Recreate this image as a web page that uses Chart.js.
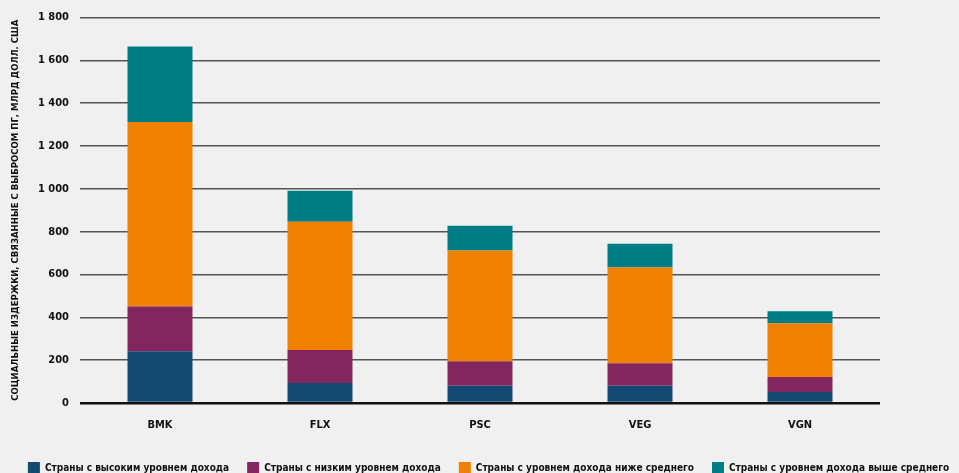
<!DOCTYPE html>
<html>
<head>
<meta charset="utf-8">
<script src="https://cdn.jsdelivr.net/npm/chart.js@4"></script>
<style>
  html, body { margin: 0; padding: 0; background: #f0f0f0; }
  #wrap { width: 959px; height: 473px; }
</style>
</head>
<body>
<div id="wrap"><canvas id="c" width="959" height="473"></canvas></div>
<script>
const categories = ["BMK", "FLX", "PSC", "VEG", "VGN"];
const seriesNames = [
  "Страны с высоким уровнем дохода",
  "Страны с низким уровнем дохода",
  "Страны с уровнем дохода ниже среднего",
  "Страны с уровнем дохода выше среднего"
];
const highIncome = [242, 93, 80, 80, 51];
const lowIncome = [209, 154, 115, 106, 70];
const lowerMiddle = [861, 600, 517, 447, 251];
const upperMiddle = [353, 144, 116, 111, 56];
const colors = ["#134A72", "#83265F", "#F08000", "#007D84"];
const yTitle = "СОЦИАЛЬНЫЕ ИЗДЕРЖКИ, СВЯЗАННЫЕ С ВЫБРОСОМ ПГ, МЛРД ДОЛЛ. США";

const FONT = "'DejaVu Sans Condensed', 'DejaVu Sans', sans-serif";
const values = [highIncome, lowIncome, lowerMiddle, upperMiddle];

new Chart(document.getElementById('c'), {
  type: 'bar',
  data: {
    labels: categories,
    datasets: seriesNames.map((n, i) => ({
      label: n,
      data: values[i],
      backgroundColor: colors[i],
      borderWidth: 0,
      barPercentage: 0.8125,
      categoryPercentage: 0.5
    }))
  },
  options: {
    responsive: false,
    animation: false,
    devicePixelRatio: 1,
    layout: { padding: { top: 6, right: 0, left: 0, bottom: -11 } },
    plugins: {
      tooltip: { enabled: false },
      legend: {
        position: 'bottom',
        labels: {
          boxWidth: 12, boxHeight: 12, padding: 18,
          color: '#111',
          font: { family: FONT, size: 10, weight: 'bold', style: 'condensed' }
        }
      }
    },
    scales: {
      x: {
        stacked: true,
        grid: { display: false },
        border: { display: false },
        ticks: { color: '#111', padding: 8, font: { family: FONT, size: 11, weight: 'bold', style: 'condensed' } },
        afterFit: s => { s.height = 41; }
      },
      y: {
        stacked: true,
        min: 0, max: 1800,
        grid: {
          drawTicks: false,
          color: c => c.tick && c.tick.value === 0 ? '#111' : '#555',
          lineWidth: c => c.tick && c.tick.value === 0 ? 2.5 : 1.6
        },
        border: { display: false },
        ticks: {
          stepSize: 200,
          padding: 11,
          color: '#111',
          font: { family: FONT, size: 11, weight: 'bold', style: 'condensed' },
          callback: v => String(v).replace(/\B(?=(\d{3})+(?!\d))/g, ' ')
        },
        title: {
          display: true,
          text: yTitle,
          color: '#111',
          font: { family: FONT, size: 9.5, weight: 'bold', style: 'condensed' },
          padding: { top: 10, bottom: 4 }
        },
        afterFit: s => { s.width = 80; }
      },
      yR: {
        position: 'right',
        display: true,
        min: 0, max: 1,
        grid: { display: false },
        border: { display: false },
        ticks: { display: false },
        afterFit: s => { s.width = 79; }
      }
    }
  },
  plugins: [{
    id: 'bg',
    beforeDraw: ch => {
      const ctx = ch.ctx;
      ctx.save();
      ctx.fillStyle = '#f0f0f0';
      ctx.fillRect(0, 0, ch.width, ch.height);
      ctx.restore();
    }
  }, {
    id: 'legendShift',
    afterLayout: ch => {
      if (ch.legend) { ch.legend.left += 9; ch.legend.right += 9; }
    }
  }]
});
</script>
</body>
</html>
